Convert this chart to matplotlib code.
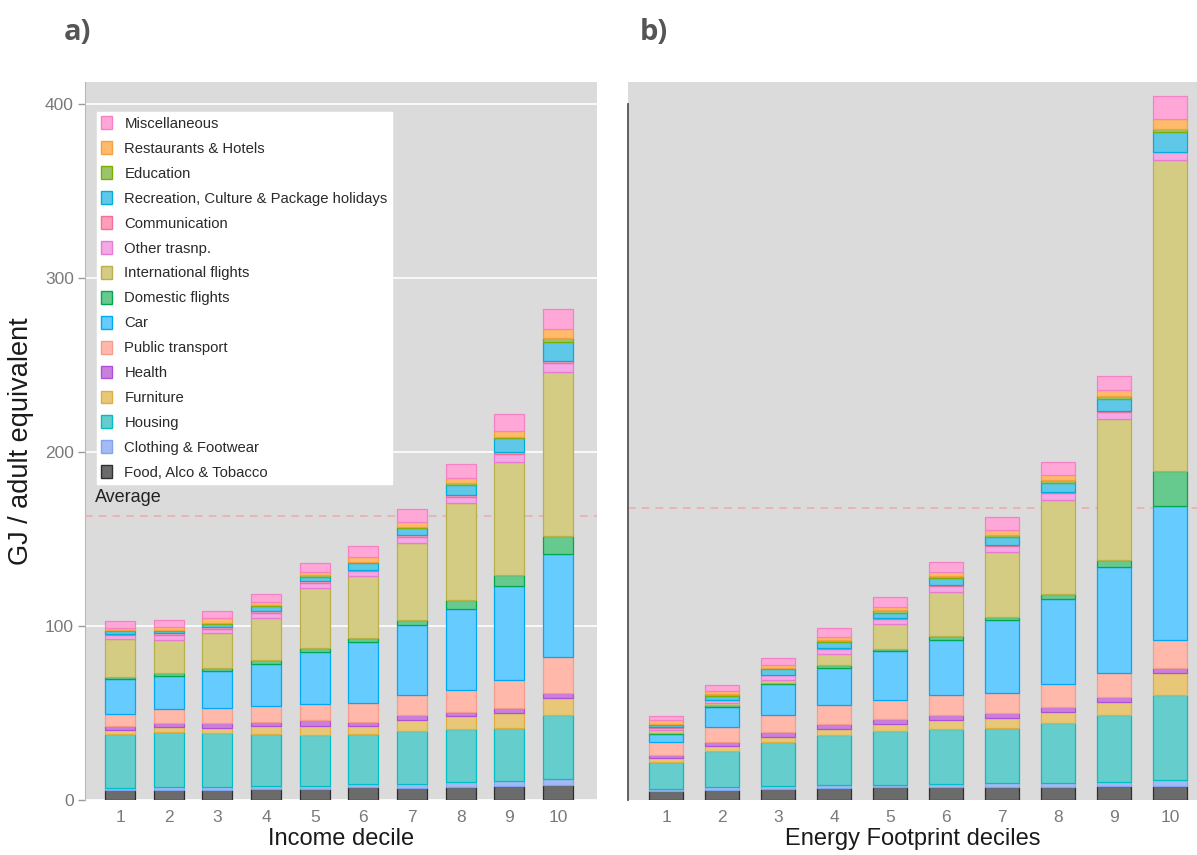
import matplotlib
matplotlib.use("Agg")
import matplotlib.pyplot as plt
from matplotlib.patches import Patch
import numpy as np

plt.rcParams['font.family'] = ['Liberation Sans', 'DejaVu Sans']

# ---------------- data ----------------
deciles = ["1", "2", "3", "4", "5", "6", "7", "8", "9", "10"]

categories = ["Food, Alco & Tobacco", "Clothing & Footwear", "Housing", "Furniture",
              "Health", "Public transport", "Car", "Domestic flights",
              "International flights", "Other trasnp.", "Communication",
              "Recreation, Culture & Package holidays", "Education",
              "Restaurants & Hotels", "Miscellaneous"]

# Panel a) by income decile (GJ / adult equivalent)
food_a      = [6.0, 6.0, 6.0, 6.3, 6.3, 7.3, 7.0, 7.7, 8.3, 8.8]
clothing_a  = [1.0, 1.5, 1.5, 1.5, 1.9, 1.9, 2.3, 2.5, 2.9, 3.3]
housing_a   = [31.0, 31.7, 31.1, 30.1, 29.4, 28.8, 30.3, 30.7, 30.1, 36.5]
furniture_a = [2.3, 2.9, 2.9, 4.8, 5.2, 4.8, 6.1, 7.1, 8.8, 10.0]
health_a    = [2.0, 2.3, 2.5, 1.9, 2.9, 2.3, 2.9, 2.5, 2.7, 2.9]
public_a    = [7.0, 7.9, 8.6, 9.2, 9.6, 10.6, 11.5, 12.9, 15.9, 20.7]
car_a       = [20.0, 19.0, 21.5, 24.4, 29.8, 35.0, 40.3, 46.6, 54.1, 59.1]
domestic_a  = [1.3, 1.5, 1.9, 2.3, 2.3, 2.3, 3.3, 4.8, 6.3, 10.4]
intl_a      = [21.7, 19.2, 20.2, 24.2, 34.5, 35.5, 43.8, 55.7, 65.2, 94.0]
other_a     = [2.3, 2.7, 2.1, 2.7, 2.9, 2.9, 3.5, 3.8, 4.8, 5.4]
comm_a      = [1.0, 1.0, 1.0, 1.0, 1.0, 1.0, 1.0, 1.0, 1.0, 1.0]
recreat_a   = [1.5, 1.7, 2.1, 2.9, 2.5, 3.8, 4.4, 5.8, 7.7, 10.9]
educ_a      = [0.5, 0.5, 0.5, 0.5, 1.0, 0.5, 0.5, 1.0, 1.0, 2.5]
rest_a      = [1.3, 1.5, 2.5, 1.9, 1.9, 2.9, 2.9, 3.1, 3.5, 5.2]
misc_a      = [4.0, 3.8, 4.4, 4.8, 4.8, 6.3, 7.7, 8.0, 9.6, 11.5]
average_a   = 163

# Panel b) by energy footprint decile
food_b      = [5.4, 5.8, 6.3, 6.9, 7.3, 7.3, 7.7, 7.7, 8.3, 8.3]
clothing_b  = [1.0, 1.9, 1.9, 1.9, 1.5, 1.9, 1.9, 1.9, 2.3, 3.3]
housing_b   = [15.3, 20.7, 24.9, 28.8, 30.7, 31.7, 31.9, 34.5, 38.4, 48.6]
furniture_b = [2.5, 2.5, 3.3, 3.3, 4.2, 5.2, 5.8, 6.3, 7.3, 12.5]
health_b    = [1.9, 2.3, 2.5, 2.9, 2.9, 2.9, 2.9, 2.9, 2.9, 2.9]
public_b    = [7.1, 9.0, 10.0, 10.6, 10.6, 11.1, 11.5, 13.4, 13.8, 16.3]
car_b       = [4.8, 11.5, 17.5, 21.7, 28.4, 32.0, 41.6, 48.9, 61.0, 76.8]
domestic_b  = [0.5, 1.0, 0.8, 1.3, 1.3, 1.9, 1.9, 2.9, 3.8, 20.1]
intl_b      = [1.7, 1.0, 1.9, 6.7, 14.4, 25.5, 37.4, 53.7, 81.0, 178.9]
other_b     = [1.2, 1.5, 2.5, 2.9, 2.9, 3.5, 3.5, 4.2, 4.0, 4.4]
comm_b      = [0.5, 0.5, 0.5, 0.5, 0.5, 0.5, 0.5, 0.5, 0.5, 0.5]
recreat_b   = [1.3, 2.3, 2.9, 3.3, 2.9, 4.0, 4.6, 5.4, 7.1, 11.1]
educ_b      = [0.7, 0.7, 0.7, 1.0, 1.5, 1.0, 1.0, 1.5, 1.5, 1.9]
rest_b      = [1.9, 1.9, 1.7, 1.9, 1.9, 2.5, 2.9, 2.9, 3.5, 5.8]
misc_b      = [2.5, 3.5, 4.4, 5.4, 5.8, 5.8, 7.3, 7.3, 8.3, 13.4]
average_b   = 168

series_a = [food_a, clothing_a, housing_a, furniture_a, health_a, public_a, car_a,
            domestic_a, intl_a, other_a, comm_a, recreat_a, educ_a, rest_a, misc_a]
series_b = [food_b, clothing_b, housing_b, furniture_b, health_b, public_b, car_b,
            domestic_b, intl_b, other_b, comm_b, recreat_b, educ_b, rest_b, misc_b]

# ---------------- styles ----------------
fills = ['#6B6B6B', '#A4BAF4', '#66CDCD', '#E8C878', '#C880DC', '#FFB8AA', '#66CBFF',
         '#66C98E', '#D4CC82', '#F5A8E6', '#FF9EBB', '#5FC8E8', '#9CC46A', '#FFBA6A', '#FFA8D8']
edges = ['#2E2E2E', '#7FA4F0', '#00BFC4', '#E0AE40', '#B050D8', '#F59C8C', '#00A9F4',
         '#00A850', '#B8B048', '#E67AD5', '#F57095', '#00AEDC', '#7CAE00', '#F2A040', '#F580C4']

W, H = 1197, 855
fig = plt.figure(figsize=(W / 100, H / 100), dpi=100)

def fr(x0, y0, x1, y1):
    return [x0 / W, 1 - y1 / H, (x1 - x0) / W, (y1 - y0) / H]

panel_bg = '#DBDBDB'
ytop = 412.6

ax_a = fig.add_axes(fr(85, 82, 597, 800))
ax_b = fig.add_axes(fr(628, 82, 1197, 800))

def draw(ax, series, width):
    x = np.arange(1, len(deciles) + 1)
    bottom = np.zeros(len(deciles))
    for vals, fc, ec in zip(series, fills, edges):
        ax.bar(x, vals, width=width, bottom=bottom, color=fc, edgecolor=ec,
               linewidth=0.9, zorder=3)
        bottom += np.array(vals)
    ax.set_xticks(x)
    ax.set_xticklabels(deciles)
    ax.set_facecolor(panel_bg)
    ax.set_ylim(0, ytop)
    for s in ax.spines.values():
        s.set_visible(False)
    ax.tick_params(axis='x', length=0, pad=7, labelsize=12.5, labelcolor='#7A7A7A')

draw(ax_a, series_a, 0.62)
draw(ax_b, series_b, 0.61)

ax_a.set_xlim(0.28, 10.80)
ax_b.set_xlim(0.32, 10.48)

# panel a y axis
ax_a.set_yticks([0, 100, 200, 300, 400])
ax_a.tick_params(axis='y', length=5, width=1, color='#9A9A9A', labelsize=12.5,
                 labelcolor='#7A7A7A', pad=3)
ax_a.spines['left'].set_visible(True)
ax_a.spines['left'].set_color('#B8B8B8')
ax_a.grid(axis='y', color='white', linewidth=1.2, zorder=0)
ax_a.set_axisbelow(True)

# panel b y axis: bare dark line
ax_b.set_yticks([])
ax_b.spines['left'].set_visible(True)
ax_b.spines['left'].set_color('#555555')
ax_b.spines['left'].set_linewidth(1.3)
ax_b.spines['left'].set_bounds(0, 400)

# average lines
for ax, av in ((ax_a, average_a), (ax_b, average_b)):
    ax.axhline(av, color='#F0A8A8', linestyle=(0, (5, 4)), linewidth=1.1, zorder=2)
ax_a.text(95 / W, 1 - 497 / H, "Average", transform=fig.transFigure,
          fontsize=13, color='#222222', va='center', ha='left')

# axis labels
ax_a.set_ylabel("GJ / adult equivalent", fontsize=19.5, color='#1A1A1A', labelpad=8)
ax_a.set_xlabel("Income decile", fontsize=17, color='#1A1A1A', labelpad=2)
ax_b.set_xlabel("Energy Footprint deciles", fontsize=17, color='#1A1A1A', labelpad=2)

# legend (top to bottom: reverse of stacking order)
handles = [Patch(facecolor=fc, edgecolor=ec, linewidth=1.0, label=lab)
           for lab, fc, ec in zip(categories, fills, edges)][::-1]
leg = ax_a.legend(handles=handles, loc='upper left',
                  bbox_to_anchor=(97 / W, 1 - 112 / H), bbox_transform=fig.transFigure,
                  fontsize=10.7, frameon=True, fancybox=False, framealpha=1,
                  facecolor='white', edgecolor='white', borderaxespad=0,
                  borderpad=0.3, handlelength=0.7, handleheight=0.95,
                  handletextpad=0.85, labelspacing=0.7)
for t in leg.get_texts():
    t.set_color('#2A2A2A')
leg.set_zorder(10)

# panel letters
fig.text(64 / W, 1 - 32 / H, "a)", fontsize=21, fontweight='bold', color='#555555',
         va='center', ha='left', family=['Open Sans', 'DejaVu Sans'])
fig.text(640 / W, 1 - 32 / H, "b)", fontsize=21, fontweight='bold', color='#555555',
         va='center', ha='left', family=['Open Sans', 'DejaVu Sans'])

fig.savefig("out.png", dpi=100, facecolor='white')
